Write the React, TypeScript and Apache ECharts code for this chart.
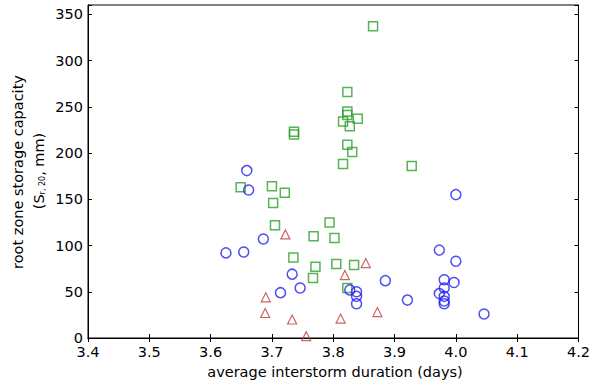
import React, { useEffect, useRef } from "react";
import * as echarts from "echarts";

// Blue circles
const blueX = [3.625, 3.654, 3.659, 3.662, 3.686, 3.714, 3.733, 3.746, 3.827, 3.838, 3.838, 3.838, 3.885, 3.921, 3.973, 3.973, 3.981, 3.981, 3.981, 3.981, 3.981, 3.997, 4.0, 4.0, 4.046];
const blueY = [92, 93, 181, 160, 107, 49, 69, 54, 52, 50, 45, 37, 62, 41, 95, 48, 63, 54, 45, 40, 37, 60, 155, 83, 26];
// Green squares
const greenX = [3.865, 3.823, 3.823, 3.823, 3.816, 3.840, 3.827, 3.736, 3.736, 3.823, 3.831, 3.816, 3.928, 3.649, 3.700, 3.721, 3.702, 3.705, 3.794, 3.768, 3.802, 3.735, 3.771, 3.805, 3.834, 3.767, 3.823];
const greenY = [337, 266, 245, 241, 234, 237, 229, 223, 220, 209, 201, 188, 186, 163, 164, 157, 146, 122, 125, 110, 108, 87, 77, 80, 79, 65, 54];
// Red triangles
const redX = [3.722, 3.853, 3.819, 3.690, 3.689, 3.733, 3.812, 3.872, 3.756];
const redY = [112, 81, 68, 44, 27, 20, 21, 28, 2];

const xTicks = [3.4, 3.5, 3.6, 3.7, 3.8, 3.9, 4.0, 4.1, 4.2];
const yTicks = [0, 50, 100, 150, 200, 250, 300, 350];

const FONT = "DejaVu Sans";

export default function App() {
  const ref = useRef<HTMLDivElement>(null);
  useEffect(() => {
    const chart = echarts.init(ref.current!, null, { renderer: "svg" });
    const zip = (xs: number[], ys: number[]) => xs.map((x, i) => [x, ys[i]]);
    const baseX = {
      type: "value" as const,
      min: xTicks[0],
      max: xTicks[xTicks.length - 1],
      interval: 0.1,
      splitLine: { show: false },
      axisLine: { show: true, lineStyle: { color: "#000", width: 1 } },
      axisTick: { show: true, inside: true, length: 4, lineStyle: { color: "#000" } },
    };
    const baseY = {
      type: "value" as const,
      min: 0,
      max: 360,
      interval: 50,
      splitLine: { show: false },
      axisLine: { show: true, lineStyle: { color: "#000", width: 1 } },
      axisTick: { show: true, inside: true, length: 4, lineStyle: { color: "#000" } },
    };
    chart.setOption({
      animation: false,
      grid: { left: 88, right: 10, top: 5, bottom: 47, show: true, borderColor: "#000", borderWidth: 1 },
      xAxis: [
        {
          ...baseX,
          position: "bottom",
          axisLabel: {
            color: "#000",
            fontFamily: FONT,
            fontSize: 14.5,
            margin: 6,
            formatter: (v: number) => v.toFixed(1),
          },
        },
        { ...baseX, position: "top", axisLabel: { show: false } },
      ],
      yAxis: [
        {
          ...baseY,
          position: "left",
          axisLabel: {
            color: "#000",
            fontFamily: FONT,
            fontSize: 14.5,
            margin: 5,
            formatter: (v: number) => (yTicks.includes(v) ? String(v) : ""),
          },
        },
        { ...baseY, position: "right", axisLabel: { show: false } },
      ],
      graphic: [
        {
          type: "text",
          x: 18,
          y: 172,
          rotation: Math.PI / 2,
          style: {
            text: "root zone storage capacity",
            fontFamily: FONT,
            fontSize: 14.5,
            fill: "#000",
            align: "center",
            verticalAlign: "middle",
          },
        },
        {
          type: "text",
          x: 39,
          y: 171,
          rotation: Math.PI / 2,
          style: {
            text: "(S{sub|r, 20}, mm)",
            fontFamily: FONT,
            fontSize: 14.5,
            fill: "#000",
            align: "center",
            verticalAlign: "middle",
            rich: {
              sub: { fontSize: 8, fontFamily: FONT, fill: "#000", padding: [7, 0, 0, 0] },
            },
          },
        },
        {
          type: "text",
          x: 335,
          y: 372,
          style: {
            text: "average interstorm duration (days)",
            fontFamily: FONT,
            fontSize: 14.5,
            fill: "#000",
            align: "center",
            verticalAlign: "middle",
          },
        },
      ],
      series: [
        {
          type: "scatter",
          data: zip(greenX, greenY),
          symbol: "rect",
          symbolSize: 9,
          itemStyle: { color: "none", borderColor: "#2ca02c", borderWidth: 1.5 },
        },
        {
          type: "scatter",
          data: zip(redX, redY),
          symbol: "triangle",
          symbolSize: 9,
          itemStyle: { color: "none", borderColor: "#c03c3c", borderWidth: 1.2 },
        },
        {
          type: "scatter",
          data: zip(blueX, blueY),
          symbol: "circle",
          symbolSize: 10,
          itemStyle: { color: "none", borderColor: "#2222ee", borderWidth: 1.5 },
        },
      ],
    });
    return () => chart.dispose();
  }, []);
  return (
    <div
      ref={ref}
      style={{ position: "fixed", left: 0, top: 0, width: 593, height: 385, background: "#fff" }}
    />
  );
}
